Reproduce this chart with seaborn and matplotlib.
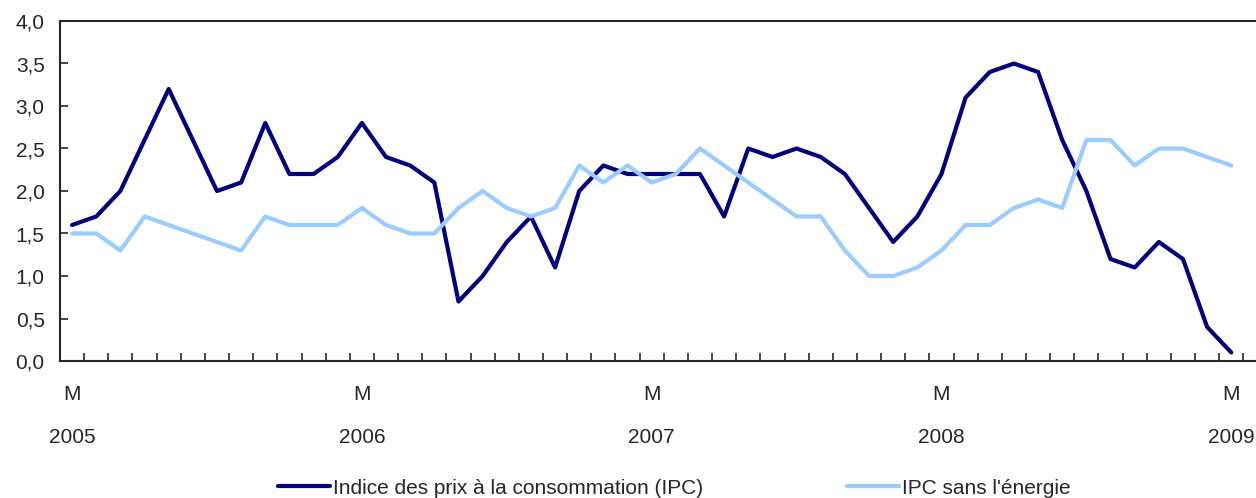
import pandas as pd
import seaborn as sns
import matplotlib.pyplot as plt
from matplotlib.ticker import FixedLocator, FixedFormatter


sns.set_style("ticks")
plt.rcParams['font.family'] = ['Liberation Sans', 'DejaVu Sans']

# monthly, March 2005 .. March 2009
months = list(range(49))
ipc = [1.6, 1.7, 2.0, 2.6, 3.2, 2.6, 2.0, 2.1, 2.8, 2.2, 2.2, 2.4,
       2.8, 2.4, 2.3, 2.1, 0.7, 1.0, 1.4, 1.7, 1.1, 2.0, 2.3, 2.2,
       2.2, 2.2, 2.2, 1.7, 2.5, 2.4, 2.5, 2.4, 2.2, 1.8, 1.4, 1.7,
       2.2, 3.1, 3.4, 3.5, 3.4, 2.6, 2.0, 1.2, 1.1, 1.4, 1.2, 0.4,
       0.1]
ipc_sans_energie = [1.5, 1.5, 1.3, 1.7, 1.6, 1.5, 1.4, 1.3, 1.7, 1.6, 1.6, 1.6,
                    1.8, 1.6, 1.5, 1.5, 1.8, 2.0, 1.8, 1.7, 1.8, 2.3, 2.1, 2.3,
                    2.1, 2.2, 2.5, 2.3, 2.1, 1.9, 1.7, 1.7, 1.3, 1.0, 1.0, 1.1,
                    1.3, 1.6, 1.6, 1.8, 1.9, 1.8, 2.6, 2.6, 2.3, 2.5, 2.5, 2.4,
                    2.3]
series_names = ["Indice des prix à la consommation (IPC)", "IPC sans l'énergie"]
label_pos = [0, 12, 24, 36, 48]
label_txt = ["M\n\n2005", "M\n\n2006", "M\n\n2007", "M\n\n2008", "M\n\n2009"]
yticks = [0.0, 0.5, 1.0, 1.5, 2.0, 2.5, 3.0, 3.5, 4.0]

df = pd.DataFrame({
    'mois': months * 2,
    'valeur': ipc + ipc_sans_energie,
    'serie': [series_names[0]] * len(months) + [series_names[1]] * len(months),
})

fig = plt.figure(figsize=(12.56, 4.98), dpi=100)
ax = fig.add_axes([60 / 1256, 137 / 498, 1207.5 / 1256, 340 / 498])

sns_plot = sns.lineplot(data=df, x='mois', y='valeur', hue='serie', ax=ax,
                        palette=['#000080', '#99CCFF'], linewidth=3.0)

ax.set_xlim(-0.5, 49.5)
ax.set_ylim(0, 4)
ax.set_xlabel('')
ax.set_ylabel('')

ax.set_yticks(yticks)
ax.set_yticklabels([f"{v:.1f}".replace('.', ',') for v in yticks], fontsize=15)
ax.tick_params(axis='y', direction='in', length=6, width=1.2, pad=11)

ax.xaxis.set_major_locator(FixedLocator(label_pos))
ax.xaxis.set_major_formatter(FixedFormatter(label_txt))
ax.xaxis.set_minor_locator(FixedLocator([i + 0.5 for i in range(-1, 50)]))
ax.tick_params(axis='x', which='major', length=0, pad=17, labelsize=15)
ax.tick_params(axis='x', which='minor', direction='in', length=6, width=1.2)
for t in ax.get_xticklabels():
    t.set_linespacing(1.17)

for s in ax.spines.values():
    s.set_linewidth(1.5)

sns.move_legend(ax, "center", bbox_to_anchor=(674 / 1256, 10 / 498),
                bbox_transform=fig.transFigure, ncol=2, title=None,
                frameon=False, fontsize=15, handlelength=2.5,
                handletextpad=0.15, columnspacing=6.9)

fig.savefig('out.png', dpi=100)
